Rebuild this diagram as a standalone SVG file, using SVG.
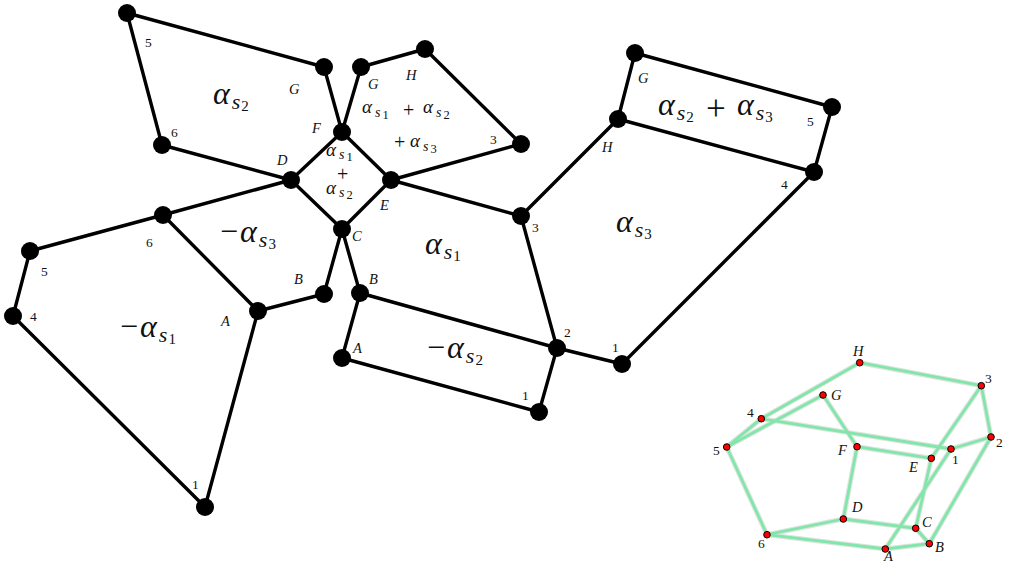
<svg xmlns="http://www.w3.org/2000/svg" width="1009" height="563" viewBox="0 0 1009 563">
<style>
text{font-family:"Liberation Serif","Times New Roman",serif;fill:#111}
.e line{stroke:#000;stroke-width:3.4;stroke-linecap:round}
.n{fill:#000}
.l{font-size:14.5px;font-style:italic}
.d{font-size:13.5px}
.a{font-size:32px;font-style:italic}
.a .s{font-size:22px;font-style:italic}
.a .i{font-size:15px;font-style:normal}
.a .o{font-style:normal}
.m{font-size:35px}
.b{font-size:19px;font-style:italic}
.b .s{font-size:14px;font-style:italic}
.b .i{font-size:12.5px;font-style:normal}
.p{font-size:20px}
.g{stroke:#dde5df;stroke-width:5;stroke-linecap:round}
.h{stroke:#82e6ab;stroke-width:2.8;stroke-linecap:round}
.r{fill:#f00;stroke:#000;stroke-width:1}
.t{font-size:14.5px;font-style:italic}
.u{font-size:13.5px}
</style>
<defs>
<g id="insetedges">
<line x1="859.7" y1="362.7" x2="981.3" y2="385.7"/><line x1="981.3" y1="385.7" x2="991" y2="437"/><line x1="991" y1="437" x2="951" y2="449"/><line x1="951" y1="449" x2="761.3" y2="418.7"/><line x1="761.3" y1="418.7" x2="726.7" y2="447"/><line x1="726.7" y1="447" x2="767" y2="534.7"/><line x1="767" y1="534.7" x2="885.3" y2="549"/><line x1="885.3" y1="549" x2="929.3" y2="543.7"/><line x1="929.3" y1="543.7" x2="991" y2="437"/><line x1="929.3" y1="543.7" x2="915.7" y2="528.3"/><line x1="915.7" y1="528.3" x2="931.3" y2="458.3"/><line x1="931.3" y1="458.3" x2="981.3" y2="385.7"/><line x1="931.3" y1="458.3" x2="857" y2="446.7"/><line x1="857" y1="446.7" x2="823" y2="395"/><line x1="823" y1="395" x2="726.7" y2="447"/><line x1="857" y1="446.7" x2="843.3" y2="519"/><line x1="843.3" y1="519" x2="915.7" y2="528.3"/><line x1="843.3" y1="519" x2="767" y2="534.7"/><line x1="859.7" y1="362.7" x2="761.3" y2="418.7"/><line x1="885.3" y1="549" x2="951" y2="449"/>
</g>
</defs>
<g id="connectors" class="e">
<line x1="127" y1="13" x2="324" y2="67"/><line x1="127" y1="13" x2="162" y2="145"/><line x1="162" y1="145" x2="291" y2="180"/><line x1="324" y1="67" x2="342" y2="132"/><line x1="342" y1="132" x2="361" y2="67"/><line x1="361" y1="67" x2="425" y2="49"/><line x1="425" y1="49" x2="521" y2="144"/><line x1="521" y1="144" x2="391" y2="180"/><line x1="342" y1="132" x2="291" y2="180"/><line x1="342" y1="132" x2="391" y2="180"/><line x1="291" y1="180" x2="342" y2="229"/><line x1="391" y1="180" x2="342" y2="229"/><line x1="291" y1="180" x2="163" y2="215"/><line x1="163" y1="215" x2="30" y2="251"/><line x1="30" y1="251" x2="13" y2="316"/><line x1="13" y1="316" x2="205" y2="507"/><line x1="205" y1="507" x2="258" y2="311"/><line x1="258" y1="311" x2="163" y2="215"/><line x1="258" y1="311" x2="324" y2="294"/><line x1="324" y1="294" x2="342" y2="229"/><line x1="342" y1="229" x2="360" y2="293"/><line x1="360" y1="293" x2="342" y2="358"/><line x1="342" y1="358" x2="539" y2="412"/><line x1="539" y1="412" x2="557" y2="348"/><line x1="360" y1="293" x2="557" y2="348"/><line x1="557" y1="348" x2="622" y2="364"/><line x1="622" y1="364" x2="814" y2="172"/><line x1="814" y1="172" x2="832" y2="107"/><line x1="832" y1="107" x2="635" y2="53"/><line x1="635" y1="53" x2="618" y2="119"/><line x1="618" y1="119" x2="814" y2="172"/><line x1="618" y1="119" x2="521" y2="216"/><line x1="521" y1="216" x2="391" y2="180"/><line x1="521" y1="216" x2="557" y2="348"/>
</g>
<g id="net-nodes" class="n">
<circle id="p1" cx="127" cy="13" r="9"/><circle id="p2" cx="324" cy="67" r="9"/><circle id="p3" cx="162" cy="145" r="9"/><circle id="p4" cx="291" cy="180" r="9"/><circle id="p5" cx="342" cy="132" r="9"/><circle id="p6" cx="361" cy="67" r="9"/><circle id="p7" cx="425" cy="49" r="9"/><circle id="p8" cx="521" cy="144" r="9"/><circle id="p9" cx="391" cy="180" r="9"/><circle id="p10" cx="342" cy="229" r="9"/><circle id="p11" cx="163" cy="215" r="9"/><circle id="p12" cx="30" cy="251" r="9"/><circle id="p13" cx="13" cy="316" r="9"/><circle id="p14" cx="205" cy="507" r="9"/><circle id="p15" cx="258" cy="311" r="9"/><circle id="p16" cx="324" cy="294" r="9"/><circle id="p17" cx="360" cy="293" r="9"/><circle id="p18" cx="342" cy="358" r="9"/><circle id="p19" cx="539" cy="412" r="9"/><circle id="p20" cx="557" cy="348" r="9"/><circle id="p21" cx="622" cy="364" r="9"/><circle id="p22" cx="521" cy="216" r="9"/><circle id="p23" cx="618" cy="119" r="9"/><circle id="p24" cx="635" cy="53" r="9"/><circle id="p25" cx="832" cy="107" r="9"/><circle id="p26" cx="814" cy="172" r="9"/>
</g>
<g id="net-labels">
<text class="d" x="145" y="47">5</text><text class="d" x="171" y="137">6</text><text class="l" x="289" y="94">G</text><text class="l" x="277" y="165">D</text><text class="l" x="312" y="133">F</text><text class="l" x="368" y="89">G</text><text class="l" x="406" y="80">H</text><text class="d" x="490" y="144">3</text><text class="l" x="380" y="210">E</text><text class="l" x="352" y="241">C</text>
<text class="d" x="146" y="247">6</text><text class="d" x="41" y="276">5</text><text class="d" x="30" y="321">4</text><text class="l" x="221" y="326">A</text><text class="l" x="294" y="284">B</text><text class="d" x="192" y="489">1</text>
<text class="l" x="369" y="284">B</text><text class="l" x="353" y="353">A</text><text class="d" x="522" y="400">1</text><text class="d" x="564" y="337">2</text><text class="d" x="612" y="352">1</text><text class="d" x="532" y="232">3</text>
<text class="l" x="602" y="152">H</text><text class="l" x="638" y="83">G</text><text class="d" x="807" y="126">5</text><text class="d" x="781" y="189">4</text>
</g>
<g id="face-labels">
<text class="a" x="213" y="104">α<tspan class="s" dx="2" dy="5">s</tspan><tspan class="i" dx="1" dy="2">2</tspan></text>
<text class="a" x="425" y="254">α<tspan class="s" dx="2" dy="5">s</tspan><tspan class="i" dx="1" dy="2">1</tspan></text>
<text class="a" x="616" y="232">α<tspan class="s" dx="2" dy="5">s</tspan><tspan class="i" dx="1" dy="2">3</tspan></text>
<text class="a" x="220" y="242"><tspan class="o">−</tspan><tspan dx="2">α</tspan><tspan class="s" dx="2" dy="5">s</tspan><tspan class="i" dx="1" dy="2">3</tspan></text>
<text class="a" x="120" y="337"><tspan class="o">−</tspan><tspan dx="2">α</tspan><tspan class="s" dx="2" dy="5">s</tspan><tspan class="i" dx="1" dy="2">1</tspan></text>
<text class="a" x="427" y="358"><tspan class="o">−</tspan><tspan dx="2">α</tspan><tspan class="s" dx="2" dy="5">s</tspan><tspan class="i" dx="1" dy="2">2</tspan></text>
<text class="a" x="658" y="115">α<tspan class="s" dx="2" dy="5">s</tspan><tspan class="i" dx="1" dy="2">2</tspan></text>
<text class="m" x="706" y="120">+</text>
<text class="a" x="737" y="115">α<tspan class="s" dx="2" dy="5">s</tspan><tspan class="i" dx="1" dy="2">3</tspan></text>
<text class="b" x="362" y="113">α<tspan class="s" dx="3" dy="4">s</tspan><tspan class="i" dx="2" dy="2">1</tspan></text>
<text class="p" x="403" y="117">+</text>
<text class="b" x="423" y="113">α<tspan class="s" dx="3" dy="4">s</tspan><tspan class="i" dx="2" dy="2">2</tspan></text>
<text class="p" x="394" y="149">+</text>
<text class="b" x="410" y="147">α<tspan class="s" dx="3" dy="4">s</tspan><tspan class="i" dx="2" dy="2">3</tspan></text>
<text class="b" x="326" y="156">α<tspan class="s" dx="3" dy="3">s</tspan><tspan class="i" dx="2" dy="2">1</tspan></text>
<text class="p" x="337" y="181">+</text>
<text class="b" x="326" y="194">α<tspan class="s" dx="3" dy="3">s</tspan><tspan class="i" dx="2" dy="2">2</tspan></text>
</g>
<g id="inset-edges">
<use href="#insetedges" class="g"/>
<use href="#insetedges" class="h"/>
</g>
<g id="inset-nodes" class="r">
<circle id="qH" cx="859.7" cy="362.7" r="3.3"/><circle id="q3" cx="981.3" cy="385.7" r="3.3"/><circle id="q2" cx="991" cy="437" r="3.3"/><circle id="q1" cx="951" cy="449" r="3.3"/><circle id="qE" cx="931.3" cy="458.3" r="3.3"/><circle id="qF" cx="857" cy="446.7" r="3.3"/><circle id="qG" cx="823" cy="395" r="3.3"/><circle id="q4" cx="761.3" cy="418.7" r="3.3"/><circle id="q5" cx="726.7" cy="447" r="3.3"/><circle id="q6" cx="767" cy="534.7" r="3.3"/><circle id="qD" cx="843.3" cy="519" r="3.3"/><circle id="qC" cx="915.7" cy="528.3" r="3.3"/><circle id="qB" cx="929.3" cy="543.7" r="3.3"/><circle id="qA" cx="885.3" cy="549" r="3.3"/>
</g>
<g id="inset-labels">
<text class="t" x="853" y="356">H</text><text class="u" x="985" y="383">3</text><text class="u" x="996" y="447">2</text><text class="u" x="952" y="464">1</text><text class="t" x="909" y="472">E</text><text class="t" x="838" y="455">F</text><text class="t" x="831" y="400">G</text><text class="u" x="747" y="417">4</text><text class="u" x="713" y="455">5</text><text class="u" x="758" y="548">6</text><text class="t" x="852" y="512">D</text><text class="t" x="922" y="527">C</text><text class="t" x="935" y="552">B</text><text class="t" x="884" y="561">A</text>
</g>
</svg>
